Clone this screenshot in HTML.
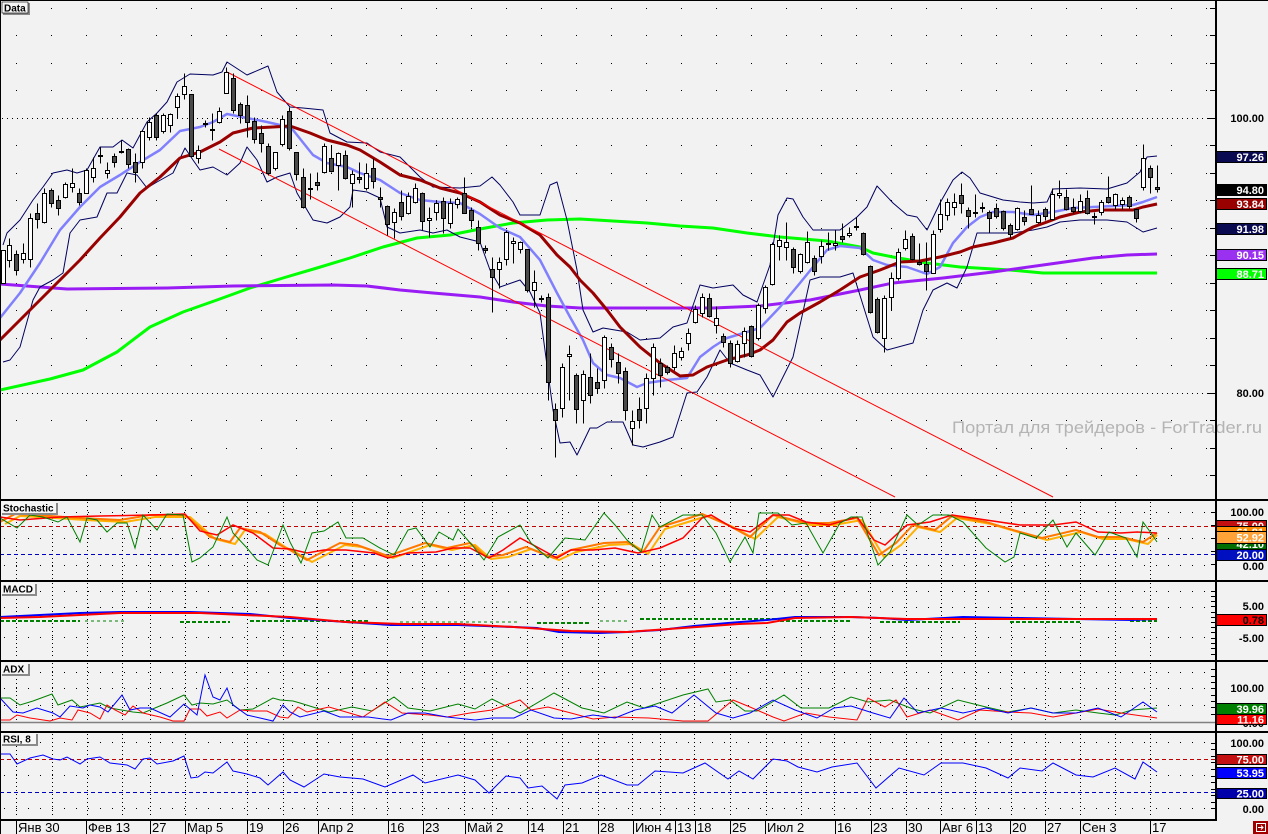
<!DOCTYPE html>
<html><head><meta charset="utf-8"><style>html,body{margin:0;padding:0;background:#f2f2f2;}svg{display:block}</style></head>
<body>
<svg xmlns="http://www.w3.org/2000/svg" width="1268" height="834" viewBox="0 0 1268 834" font-family="'Liberation Sans', Arial, sans-serif">
<rect width="1268" height="834" fill="#f2f2f2"/>

<!-- main panel dotted grid -->
<g stroke="#000" stroke-width="1" fill="none">
<path stroke-dasharray="1 34" d="M16 8.5H1212M16 35.5H1212M16 63.5H1212M16 90.5H1212M16 145.5H1212M16 173.5H1212M16 200.5H1212M16 228.5H1212M16 255.5H1212M16 283.5H1212M16 310.5H1212M16 338.5H1212M16 365.5H1212M16 420.5H1212M16 448.5H1212M16 475.5H1212"/>
<path stroke-dasharray="1 4" d="M2 118.5H1212M2 393.5H1212"/>
</g>

<!-- lower panel dotted grid -->
<g stroke="#000" stroke-width="1" fill="none" stroke-dasharray="1 3">
<path d="M16.5 502V579M52.5 502V579M87.5 502V579M122.5 502V579M150.5 502V579M185.5 502V579M247.5 502V579M283.5 502V579M317.5 502V579M352.5 502V579M387.5 502V579M422.5 502V579M464.5 502V579M492.5 502V579M527.5 502V579M562.5 502V579M598.5 502V579M632.5 502V579M660.5 502V579M694.5 502V579M730.5 502V579M766.5 502V579M801.5 502V579M834.5 502V579M870.5 502V579M906.5 502V579M941.5 502V579M975.5 502V579M1011.5 502V579M1045.5 502V579M1080.5 502V579M1115.5 502V579M1150.5 502V579"/>
<path d="M16.5 583V659M52.5 583V659M87.5 583V659M122.5 583V659M150.5 583V659M185.5 583V659M247.5 583V659M283.5 583V659M317.5 583V659M352.5 583V659M387.5 583V659M422.5 583V659M464.5 583V659M492.5 583V659M527.5 583V659M562.5 583V659M598.5 583V659M632.5 583V659M660.5 583V659M694.5 583V659M730.5 583V659M766.5 583V659M801.5 583V659M834.5 583V659M870.5 583V659M906.5 583V659M941.5 583V659M975.5 583V659M1011.5 583V659M1045.5 583V659M1080.5 583V659M1115.5 583V659M1150.5 583V659"/>
<path d="M16.5 663V721M52.5 663V721M87.5 663V721M122.5 663V721M150.5 663V721M185.5 663V721M247.5 663V721M283.5 663V721M317.5 663V721M352.5 663V721M387.5 663V721M422.5 663V721M464.5 663V721M492.5 663V721M527.5 663V721M562.5 663V721M598.5 663V721M632.5 663V721M660.5 663V721M694.5 663V721M730.5 663V721M766.5 663V721M801.5 663V721M834.5 663V721M870.5 663V721M906.5 663V721M941.5 663V721M975.5 663V721M1011.5 663V721M1045.5 663V721M1080.5 663V721M1115.5 663V721M1150.5 663V721"/>
<path d="M16.5 734V818M52.5 734V818M87.5 734V818M122.5 734V818M150.5 734V818M185.5 734V818M247.5 734V818M283.5 734V818M317.5 734V818M352.5 734V818M387.5 734V818M422.5 734V818M464.5 734V818M492.5 734V818M527.5 734V818M562.5 734V818M598.5 734V818M632.5 734V818M660.5 734V818M694.5 734V818M730.5 734V818M766.5 734V818M801.5 734V818M834.5 734V818M870.5 734V818M906.5 734V818M941.5 734V818M975.5 734V818M1011.5 734V818M1045.5 734V818M1080.5 734V818M1115.5 734V818M1150.5 734V818"/>
</g>
<g stroke="#000" stroke-width="1" fill="none" stroke-dasharray="1 11">
<path d="M4 512.5H1212M4 538.5H1212M4 565.5H1212M4 591.5H1212M4 607.5H1212M4 637.5H1212M4 672.5H1212M4 688.5H1212M4 705.5H1212M4 742.5H1212M4 775.5H1212M4 808.5H1212"/>
</g>

<!-- MAIN PANEL indicators -->
<g fill="none" stroke-linejoin="round">
<polyline stroke="#00ff00" stroke-width="3" points="0,390 50,379 83,370 117,352 150,327 183,312 217,300 250,288 283,278 317,268 350,258 383,247 417,238 450,235 480,229 513,223 547,220 580,219 613,221 647,223 680,226 713,228 747,233 780,237 827,241 860,247 873,253 893,257 927,263 960,267 1010,270 1043,273 1157,273"/>
<polyline stroke="#9a1cf4" stroke-width="3" points="0,284 67,289 167,288 233,286 333,285 367,286 400,290 433,293 480,297 513,302 547,306 580,308 647,308 713,308 760,306 810,300 860,290 893,283 943,278 993,272 1043,265 1093,258 1127,255 1157,254"/>
<polyline stroke="#000060" stroke-width="1" points="3,245 7,233 20,220 33,200 43,187 53,173 67,170 77,173 87,170 100,147 113,147 122,140 133,148 147,122 157,113 167,102 177,82 190,74 213,75 222,72 227,62 247,75 268,66 277,92 290,107 303,108 323,110 330,133 347,142 367,143 380,152 400,157 420,177 433,187 460,188 480,186 492,177 500,185 513,202 520,215 540,215 550,185 557,182 567,220 577,270 583,310 593,332 603,328 627,332 640,340 660,338 673,327 687,323 700,285 713,288 733,285 743,295 757,302 770,265 778,215 787,198 793,199 803,217 813,230 840,230 857,217 867,207 877,186 893,203 907,215 917,217 927,230 940,203 953,180 962,172 970,178 980,193 1003,200 1020,202 1033,203 1047,202 1053,189 1080,188 1107,189 1127,183 1140,172 1147,157 1157,156"/>
<polyline stroke="#000060" stroke-width="1" points="3,362 10,360 20,347 33,300 40,287 53,280 63,273 70,233 80,220 97,217 107,193 117,193 127,173 137,175 147,188 157,182 173,173 185,148 193,160 200,170 213,167 227,175 240,163 247,147 257,160 267,182 277,177 290,173 297,193 313,220 327,223 340,217 350,207 353,190 367,192 380,198 387,227 400,233 420,230 433,233 447,230 460,237 480,242 490,270 500,287 520,280 530,292 540,313 553,410 560,443 570,442 577,455 590,428 597,428 607,422 623,422 633,445 643,447 660,442 673,437 687,393 697,392 707,377 720,350 730,363 747,370 760,375 773,397 793,357 810,280 820,277 840,277 853,273 873,337 887,350 913,343 923,310 933,290 947,283 957,288 967,267 977,233 993,233 1013,233 1033,230 1047,227 1060,222 1080,220 1107,220 1127,222 1143,232 1157,228"/>
<polyline stroke="#8080ff" stroke-width="2.5" points="0,318 20,293 40,263 60,230 80,207 100,187 120,175 140,162 160,150 180,131 200,127 213,122 227,114 247,118 267,122 280,125 293,130 313,155 327,163 347,167 360,173 380,180 400,193 420,200 440,202 460,203 480,214 500,228 520,237 540,260 557,293 570,317 583,340 593,363 607,375 620,378 637,387 647,383 667,380 687,378 700,357 713,347 727,338 747,332 760,328 780,307 800,283 813,267 827,250 840,246 860,248 873,260 887,265 907,267 927,274 940,267 953,243 967,227 980,217 993,212 1013,212 1033,215 1053,212 1073,208 1093,207 1113,206 1133,205 1143,202 1157,197"/>
<polyline stroke="#990000" stroke-width="3" points="0,340 20,320 40,300 60,280 80,260 100,238 120,217 140,193 160,177 180,158 200,152 220,142 233,133 253,128 273,127 290,126 310,133 327,140 347,145 360,150 380,162 400,175 420,180 440,188 460,193 480,202 500,215 520,223 540,235 557,255 570,267 580,280 593,293 607,310 620,327 640,347 660,363 680,376 693,375 707,367 727,360 747,355 760,350 773,340 787,322 800,313 820,302 840,290 860,277 880,270 900,262 920,261 940,257 960,252 973,247 993,243 1013,238 1033,227 1047,222 1060,217 1080,212 1100,210 1133,210 1143,207 1157,204"/>
<line x1="227" y1="72" x2="1053" y2="497" stroke="#ff0000" stroke-width="1"/>
<line x1="219" y1="149" x2="895" y2="497" stroke="#ff0000" stroke-width="1"/>
</g>

<!-- candles -->
<g transform="translate(0.5,0.5)" shape-rendering="crispEdges" stroke="#000" stroke-width="1">
<path fill="none" d="M3 250V283M9 238V267M16 250V275M23 243V263M30 213V267M37 203V228M44 188V223M51 188V207M58 195V215M65 182V198M72 168V192M79 188V205M86 168V193M93 157V182M100 147V163M107 162V178M114 153V167M121 140V153M128 148V168M135 153V182M142 130V168M149 117V140M156 113V140M163 113V133M170 113V132M177 93V118M184 73V99M191 94V156M198 145V163M205 120V127M212 113V140M219 107V123M226 67V93M233 73V113M240 102V123M247 95V137M254 117V143M261 125V152M268 143V175M275 152V170M282 115V146M289 107V150M296 152V180M303 168V208M310 173V199M317 172V190M324 143V173M331 145V172M338 152V190M345 150V179M352 170V207M359 162V183M366 163V190M373 158V188M380 187V207M387 205V235M394 208V238M401 190V220M408 192V214M415 183V203M422 192V230M429 207V237M436 200V220M443 197V233M450 198V228M457 197V208M464 177V213M471 207V227M478 220V250M485 245V253M492 257V312M499 257V288M506 230V265M513 237V263M520 241V253M527 249V292M534 270V307M541 295V302M548 293V400M555 403V457M562 363V417M569 345V400M576 373V423M583 370V423M590 353V403M597 368V393M604 335V388M611 343V367M618 353V383M625 367V420M632 410V445M639 397V428M646 373V423M653 343V395M660 358V387M667 365V374M674 345V370M681 347V360M688 328V350M695 305V323M702 293V317M709 293V317M716 306V333M723 333V347M730 340V367M737 340V362M744 327V357M751 325V357M758 303V340M765 285V313M772 242V285M779 235V260M786 222V260M793 247V273M800 253V273M807 231V263M814 255V275M821 240V263M828 232V250M835 230V250M842 223V242M849 227V237M856 217V230M863 232V255M870 265V313M877 297V333M884 295V352M891 272V310M898 248V280M905 230V250M912 233V260M919 243V265M926 242V290M933 230V273M940 199V232M947 198V220M954 193V215M961 183V213M968 207V228M975 194V217M982 202V212M989 210V232M996 203V218M1003 210V230M1010 223V238M1017 207V230M1024 210V225M1031 185V214M1038 210V223M1045 207V220M1052 188V220M1059 180V198M1066 189V210M1073 198V213M1080 194V213M1087 190V214M1094 212V224M1101 200V215M1108 176V203M1115 193V209M1122 197V209M1129 195V208M1136 208V222M1143 144V190M1150 165V193M1157 165V192"/>
<path fill="#4a4a4a" d="M14 254h4V270h-4zM35 213h4V219h-4zM49 190h4V203h-4zM56 200h4V208h-4zM77 193h4V202h-4zM98 155h4V156h-4zM112 156h4V162h-4zM119 151h4V152h-4zM126 149h4V164h-4zM133 162h4V172h-4zM154 115h4V137h-4zM189 94h4V156h-4zM203 123h4V124h-4zM210 129h4V130h-4zM231 78h4V110h-4zM238 104h4V115h-4zM245 105h4V122h-4zM252 121h4V139h-4zM259 133h4V143h-4zM266 146h4V173h-4zM287 111h4V148h-4zM294 152h4V174h-4zM301 177h4V207h-4zM308 188h4V189h-4zM315 182h4V185h-4zM329 158h4V171h-4zM343 155h4V178h-4zM357 177h4V179h-4zM371 168h4V181h-4zM378 197h4V199h-4zM385 206h4V224h-4zM399 202h4V216h-4zM420 193h4V221h-4zM441 201h4V218h-4zM462 193h4V213h-4zM469 210h4V220h-4zM476 227h4V243h-4zM483 248h4V250h-4zM490 269h4V277h-4zM525 249h4V290h-4zM539 298h4V299h-4zM546 297h4V382h-4zM553 409h4V420h-4zM574 375h4V409h-4zM588 377h4V395h-4zM595 382h4V388h-4zM609 347h4V359h-4zM616 362h4V373h-4zM623 371h4V410h-4zM637 409h4V420h-4zM658 363h4V375h-4zM665 367h4V372h-4zM707 298h4V316h-4zM721 336h4V342h-4zM728 343h4V363h-4zM749 326h4V356h-4zM791 249h4V267h-4zM812 258h4V271h-4zM840 236h4V239h-4zM854 226h4V227h-4zM861 233h4V254h-4zM868 266h4V312h-4zM875 299h4V332h-4zM910 236h4V259h-4zM917 262h4V264h-4zM924 264h4V271h-4zM959 195h4V203h-4zM966 210h4V216h-4zM973 212h4V213h-4zM987 212h4V218h-4zM994 208h4V216h-4zM1001 211h4V228h-4zM1008 225h4V234h-4zM1022 217h4V221h-4zM1029 209h4V214h-4zM1043 209h4V216h-4zM1064 197h4V209h-4zM1071 207h4V211h-4zM1085 198h4V213h-4zM1092 216h4V217h-4zM1106 197h4V202h-4zM1127 197h4V206h-4zM1134 209h4V218h-4zM1148 168h4V177h-4zM1155 187h4V189h-4z"/>
<path fill="#ffffff" d="M1 250h4V283h-4zM7 245h4V260h-4zM21 253h4V259h-4zM28 218h4V259h-4zM42 193h4V222h-4zM63 184h4V197h-4zM70 183h4V187h-4zM84 170h4V193h-4zM91 168h4V177h-4zM105 170h4V173h-4zM140 131h4V162h-4zM147 122h4V137h-4zM161 115h4V131h-4zM168 114h4V125h-4zM175 96h4V107h-4zM182 86h4V94h-4zM196 150h4V158h-4zM217 111h4V122h-4zM224 72h4V93h-4zM273 152h4V168h-4zM280 119h4V144h-4zM322 146h4V172h-4zM336 153h4V165h-4zM350 174h4V183h-4zM364 173h4V188h-4zM392 212h4V222h-4zM406 196h4V213h-4zM413 188h4V202h-4zM427 218h4V220h-4zM434 203h4V212h-4zM448 203h4V223h-4zM455 199h4V204h-4zM497 262h4V269h-4zM504 232h4V259h-4zM511 241h4V243h-4zM518 242h4V249h-4zM532 282h4V290h-4zM560 367h4V408h-4zM567 354h4V356h-4zM581 374h4V400h-4zM602 337h4V380h-4zM630 421h4V428h-4zM644 378h4V408h-4zM651 347h4V378h-4zM672 353h4V367h-4zM679 351h4V357h-4zM686 333h4V343h-4zM693 309h4V322h-4zM700 297h4V313h-4zM714 318h4V325h-4zM735 344h4V361h-4zM742 331h4V343h-4zM756 305h4V338h-4zM763 287h4V308h-4zM770 244h4V284h-4zM777 240h4V246h-4zM784 242h4V247h-4zM798 254h4V271h-4zM805 242h4V262h-4zM819 246h4V256h-4zM826 243h4V244h-4zM833 243h4V245h-4zM847 233h4V235h-4zM882 298h4V338h-4zM889 278h4V297h-4zM896 252h4V278h-4zM903 239h4V248h-4zM931 234h4V273h-4zM938 214h4V229h-4zM945 202h4V215h-4zM952 202h4V207h-4zM980 207h4V208h-4zM1015 208h4V229h-4zM1036 215h4V222h-4zM1050 194h4V219h-4zM1057 193h4V195h-4zM1078 201h4V211h-4zM1099 202h4V212h-4zM1113 194h4V205h-4zM1120 200h4V204h-4zM1141 158h4V187h-4z"/>
</g>

<!-- watermark -->
<text x="952" y="433" font-size="17" fill="#b4b4b4" textLength="310" lengthAdjust="spacingAndGlyphs">Портал для трейдеров - ForTrader.ru</text>

<!-- STOCHASTIC -->
<g fill="none" stroke-width="1">
<line x1="0" y1="526.5" x2="1215" y2="526.5" stroke="#c00000" stroke-dasharray="4 3"/>
<line x1="0" y1="554.5" x2="1215" y2="554.5" stroke="#0000c0" stroke-dasharray="4 3"/>
<polyline stroke="#ffb000" stroke-width="2" transform="translate(5,2)" points="0,522 15,514 50,516 80,518 120,520 150,515 185,515 200,528 210,537 230,542 240,528 260,532 280,545 290,550 307,560 340,543 357,545 388,556 425,543 447,548 470,543 486,557 503,555 526,547 554,558 571,550 604,543 627,542 643,552 660,527 683,520 702,514 728,525 750,537 773,515 806,523 829,523 857,518 879,555 896,543 913,525 935,530 952,516 986,522 1020,532 1042,538 1076,530 1098,537 1121,537 1143,542 1152,533"/>
<polyline stroke="#ff7800" stroke-width="2" points="0,522 15,514 50,516 80,518 120,520 150,515 185,515 200,528 210,537 230,542 240,528 260,532 280,545 290,550 307,560 340,543 357,545 388,556 425,543 447,548 470,543 486,557 503,555 526,547 554,558 571,550 604,543 627,542 643,552 660,527 683,520 702,514 728,525 750,537 773,515 806,523 829,523 857,518 879,555 896,543 913,525 935,530 952,516 986,522 1020,532 1042,538 1076,530 1098,537 1121,537 1143,542 1157,533"/>
<polyline stroke="#ff0000" stroke-width="1.5" points="0,517 20,520 60,517 100,516 150,515 185,514 200,531 217,535 233,525 253,533 273,548 290,549 307,553 324,550 346,550 374,553 388,558 408,553 436,552 453,548 470,548 489,558 503,550 520,538 537,547 557,558 571,550 593,550 615,548 638,553 660,548 683,538 702,518 711,515 733,528 750,532 773,515 789,515 806,522 829,525 857,517 874,540 885,545 907,525 930,522 952,515 986,520 1020,525 1053,525 1076,522 1098,532 1121,533 1137,532 1157,533"/>
<polyline stroke="#008000" stroke-width="1" points="0,518 17,528 30,515 43,517 58,522 67,517 80,542 87,518 97,520 107,532 117,523 127,523 135,548 143,515 157,530 167,514 183,515 192,562 200,558 213,547 227,517 233,533 247,548 257,560 268,565 283,525 290,542 301,563 312,533 324,531 338,522 346,538 363,538 380,548 394,555 408,530 416,528 430,547 439,532 453,540 458,529 472,545 484,560 498,537 520,525 531,543 548,558 565,538 585,540 604,513 615,525 627,540 641,552 652,515 660,527 683,515 702,515 716,533 730,562 745,537 753,553 759,513 778,513 792,525 806,523 823,553 840,523 851,517 862,517 878,565 890,552 907,515 918,525 933,515 949,515 963,522 986,548 1005,562 1014,557 1020,533 1036,538 1053,520 1067,547 1076,533 1095,555 1109,532 1126,538 1137,557 1143,522 1151,533 1157,542"/>
</g>

<!-- MACD -->
<g fill="none">
<path stroke="#008000" stroke-width="2" stroke-dasharray="4 2" d="M0 621H80M180 622H230M250 621H370M537 623H590M640 619H780M780 621H850M880 622H960M1010 622H1080M1130 621H1157"/>
<path stroke="#008000" stroke-width="1" stroke-dasharray="3 3" d="M85 621H125M400 622H520M600 621H630"/>
<polyline stroke="#0000ff" stroke-width="2" points="0,617 40,615 80,613 120,612 190,612 250,614 290,618 346,622 391,625 458,625 514,627 537,628 559,632 599,633 627,632 660,630 694,626 728,623 767,620 795,617 851,617 880,618 907,620 963,617 1020,618 1076,619 1132,620 1157,619"/>
<polyline stroke="#ff0000" stroke-width="2" points="0,618 40,617 80,615 120,613 200,613 290,617 346,622 402,624 458,624 514,627 571,631 627,632 683,628 739,624 767,623 795,618 851,617 907,619 1157,619"/>
</g>

<!-- ADX -->
<g fill="none" stroke-width="1">
<line x1="0" y1="722.5" x2="1215" y2="722.5" stroke="#808080" stroke-width="1.5"/>
<polyline stroke="#008000" points="0,698 10,698 20,705 33,701 52,694 58,705 72,700 80,707 100,703 110,708 133,712 143,713 167,703 184,695 192,705 200,703 213,704 227,700 240,710 253,709 273,698 280,700 293,701 300,703 329,712 352,707 372,711 394,697 408,708 430,711 458,704 475,709 492,699 520,713 554,693 582,708 604,713 627,702 644,708 683,695 708,689 716,702 730,700 745,711 757,711 784,695 801,708 829,708 851,697 868,702 890,700 913,709 930,713 958,700 986,707 1008,712 1031,708 1053,713 1076,710 1098,713 1115,715 1132,710 1157,708"/>
<polyline stroke="#ff0000" points="0,720 10,720 17,715 30,718 50,721 60,718 72,720 78,710 90,713 100,719 107,705 115,710 125,715 133,706 143,713 160,717 173,721 184,721 190,709 200,709 207,716 220,712 227,718 240,710 253,711 267,711 280,717 288,718 298,707 307,712 329,707 346,712 363,717 385,702 402,713 430,715 447,717 470,713 492,710 520,700 531,710 548,707 571,713 593,719 615,717 649,718 683,721 708,721 733,700 750,707 773,717 784,721 806,713 829,717 857,720 868,698 885,707 896,700 907,717 930,710 958,720 980,710 1008,712 1031,713 1053,717 1076,713 1098,709 1121,713 1157,718"/>
<polyline stroke="#0000ff" points="0,698 13,712 23,713 37,708 53,713 60,717 70,706 83,708 90,705 100,707 108,712 122,695 130,710 140,708 150,708 170,717 184,704 197,715 205,675 213,697 220,700 227,688 233,705 247,715 260,718 273,721 283,705 290,712 300,717 324,711 340,717 368,717 391,720 408,713 425,713 447,717 475,720 492,718 514,718 531,710 554,718 571,719 593,715 615,718 635,710 655,706 672,713 694,695 716,713 733,718 750,713 773,700 795,710 817,718 834,708 851,706 873,713 890,718 904,698 918,713 941,708 963,713 986,708 1008,713 1031,708 1053,713 1076,713 1098,708 1121,717 1143,702 1157,712"/>
</g>

<!-- RSI -->
<g fill="none" stroke-width="1">
<line x1="0" y1="759.5" x2="1215" y2="759.5" stroke="#c00000" stroke-dasharray="4 3"/>
<line x1="0" y1="792.5" x2="1215" y2="792.5" stroke="#0000c0" stroke-dasharray="4 3"/>
<polyline stroke="#0000ff" points="0,754 10,754 17,764 30,758 43,755 53,759 60,760 67,757 80,764 87,759 100,757 110,763 127,765 135,769 143,759 150,758 157,764 173,761 184,756 191,778 198,777 205,772 213,773 227,762 233,771 247,774 260,778 268,785 283,772 290,780 304,787 324,774 340,777 363,779 385,787 413,775 425,783 458,775 475,780 489,793 506,776 520,778 528,788 542,786 557,799 565,785 582,783 601,775 627,785 638,785 655,771 683,773 705,763 728,779 739,771 753,779 773,759 787,761 798,767 817,772 832,767 857,763 876,788 899,768 924,775 941,763 963,763 986,768 1008,778 1020,768 1042,771 1053,763 1076,775 1093,777 1115,768 1135,779 1143,762 1157,772"/>
</g>

<!-- separators and frame -->
<g fill="#000" shape-rendering="crispEdges">
<rect x="0" y="0" width="1268" height="1"/>
<rect x="0" y="0" width="1" height="834"/>
<rect x="0" y="499" width="1268" height="2"/>
<rect x="0" y="580" width="1268" height="2"/>
<rect x="0" y="660" width="1268" height="2"/>
<rect x="0" y="731" width="1268" height="2"/>
<rect x="0" y="819" width="1217" height="2"/>
<rect x="1215" y="0" width="2" height="821"/>
</g>

<!-- axis ticks -->
<g stroke="#000" stroke-width="1" shape-rendering="crispEdges">
<path d="M1210 8.5H1215M1210 35.5H1215M1210 63.5H1215M1210 90.5H1215M1207 118.5H1215M1210 145.5H1215M1210 173.5H1215M1210 200.5H1215M1210 228.5H1215M1210 255.5H1215M1210 283.5H1215M1210 310.5H1215M1210 338.5H1215M1210 365.5H1215M1207 393.5H1215M1210 420.5H1215M1210 448.5H1215M1210 475.5H1215"/>
<path d="M1211 512.5H1215M1211 525.5H1215M1211 538.5H1215M1211 551.5H1215M1211 564.5H1215M1211 591.5H1215M1211 596.5H1215M1211 601.5H1215M1211 606.5H1215M1211 612.5H1215M1211 617.5H1215M1211 622.5H1215M1211 627.5H1215M1211 632.5H1215M1211 638.5H1215M1211 643.5H1215M1211 648.5H1215M1211 654.5H1215M1211 669.5H1215M1211 676.5H1215M1211 682.5H1215M1211 688.5H1215M1211 695.5H1215M1211 701.5H1215M1211 707.5H1215M1211 714.5H1215M1211 743.5H1215M1211 749.5H1215M1211 756.5H1215M1211 762.5H1215M1211 769.5H1215M1211 776.5H1215M1211 782.5H1215M1211 789.5H1215M1211 795.5H1215M1211 802.5H1215M1211 808.5H1215"/>
</g>

<!-- panel title boxes -->
<g font-weight="bold" font-size="10" fill="#000">
<rect x="27" y="3" width="3" height="12" fill="#8a8a8a"/><rect x="3" y="13" width="27" height="2" fill="#8a8a8a"/>
<rect x="2" y="2" width="26" height="11" fill="#f6f6f6" stroke="#000" stroke-width="0.6"/>
<text x="4" y="11.5">Data</text>
<rect x="55" y="503" width="3" height="12" fill="#8a8a8a"/><rect x="2" y="513" width="56" height="2" fill="#8a8a8a"/>
<rect x="1" y="502" width="55" height="11" fill="#f6f6f6"/>
<text x="3" y="511.5">Stochastic</text>
<rect x="34" y="584" width="3" height="12" fill="#8a8a8a"/><rect x="2" y="594" width="35" height="2" fill="#8a8a8a"/>
<rect x="1" y="583" width="34" height="11" fill="#f6f6f6"/>
<text x="3" y="592.5">MACD</text>
<rect x="27" y="664" width="3" height="12" fill="#8a8a8a"/><rect x="2" y="674" width="28" height="2" fill="#8a8a8a"/>
<rect x="1" y="663" width="27" height="11" fill="#f6f6f6"/>
<text x="3" y="672.5">ADX</text>
<rect x="35" y="734" width="3" height="12" fill="#8a8a8a"/><rect x="2" y="744" width="36" height="2" fill="#8a8a8a"/>
<rect x="1" y="733" width="35" height="11" fill="#f6f6f6"/>
<text x="3" y="742.5">RSI, 8</text>
</g>

<!-- right value labels -->
<g font-weight="bold" font-size="11" text-anchor="end">
<text x="1264" y="122" fill="#000">100.00</text>
<text x="1264" y="397" fill="#000">80.00</text>
<rect x="1216.5" y="151.5" width="50" height="11" fill="#0a0a50" stroke="#000"/><text x="1264" y="161" fill="#fff">97.26</text>
<rect x="1216.5" y="184.5" width="50" height="11" fill="#000" stroke="#000"/><text x="1264" y="194" fill="#fff">94.80</text>
<rect x="1216.5" y="198.5" width="50" height="11" fill="#990000" stroke="#000"/><text x="1264" y="208" fill="#fff">93.84</text>
<rect x="1216.5" y="223.5" width="50" height="11" fill="#0a0a50" stroke="#000"/><text x="1264" y="233" fill="#fff">91.98</text>
<rect x="1216.5" y="249.5" width="50" height="11" fill="#9a30f0" stroke="#000"/><text x="1264" y="259" fill="#fff">90.15</text>
<rect x="1216.5" y="268.5" width="50" height="11" fill="#00ff00" stroke="#000"/><text x="1264" y="278" fill="#fff">88.71</text>

<text x="1264" y="516" fill="#000">100.00</text>
<rect x="1216.5" y="520.5" width="50" height="11" fill="#c41010" stroke="#000"/><text x="1264" y="530" fill="#fff">75.00</text>
<rect x="1216.5" y="526.5" width="50" height="11" fill="#ff8c00" stroke="#000"/><text x="1264" y="536" fill="#fff">61.81</text>
<rect x="1216.5" y="538.5" width="50" height="11" fill="#006e00" stroke="#000"/><text x="1264" y="548" fill="#fff">42.10</text>
<rect x="1216.5" y="531.5" width="50" height="12" fill="#ffa238" stroke="#000"/><text x="1264" y="541.5" fill="#fff">52.92</text>
<rect x="1216.5" y="549.5" width="50" height="11" fill="#0010c0" stroke="#000"/><text x="1264" y="559" fill="#fff">20.00</text>
<text x="1264" y="570" fill="#000">0.00</text>

<text x="1264" y="610" fill="#000">5.00</text>
<rect x="1216.5" y="614.5" width="50" height="11" fill="#ff0000" stroke="#000"/><text x="1264" y="624" fill="#000">0.78</text>
<text x="1264" y="642" fill="#000">-5.00</text>

<text x="1264" y="692" fill="#000">100.00</text>
<text x="1264" y="727" fill="#000">0.00</text>
<rect x="1216.5" y="703.5" width="50" height="11" fill="#008000" stroke="#000"/><text x="1264" y="713" fill="#fff">39.96</text>
<rect x="1216.5" y="714.5" width="50" height="10" fill="#ff0000" stroke="#000"/><text x="1264" y="723.5" fill="#fff">11.16</text>

<text x="1264" y="747" fill="#000">100.00</text>
<rect x="1216.5" y="754.5" width="50" height="10" fill="#c41010" stroke="#000"/><text x="1264" y="763.5" fill="#fff">75.00</text>
<rect x="1216.5" y="767.5" width="50" height="11" fill="#0000ff" stroke="#000"/><text x="1264" y="777" fill="#fff">53.95</text>
<rect x="1216.5" y="788.5" width="50" height="10" fill="#0000aa" stroke="#000"/><text x="1264" y="797.5" fill="#fff">25.00</text>
<text x="1264" y="813" fill="#000">0.00</text>
</g>

<!-- date axis -->
<g stroke="#000" stroke-width="1" shape-rendering="crispEdges">
<path d="M16.5 821V834M86.5 821V834M150.5 821V834M185.5 821V834M247.5 821V834M283.5 821V834M318.5 821V834M388.5 821V834M423.5 821V834M465.5 821V834M528.5 821V834M563.5 821V834M598.5 821V834M633.5 821V834M675.5 821V834M695.5 821V834M730.5 821V834M765.5 821V834M835.5 821V834M871.5 821V834M906.5 821V834M940.5 821V834M976.5 821V834M1010.5 821V834M1045.5 821V834M1080.5 821V834M1150.5 821V834"/>
</g>
<g font-size="13" fill="#000">
<text x="18" y="832">Янв 30</text>
<text x="88" y="832">Фев 13</text>
<text x="152" y="832">27</text>
<text x="187" y="832">Мар 5</text>
<text x="249" y="832">19</text>
<text x="285" y="832">26</text>
<text x="320" y="832">Апр 2</text>
<text x="390" y="832">16</text>
<text x="425" y="832">23</text>
<text x="467" y="832">Май 2</text>
<text x="530" y="832">14</text>
<text x="565" y="832">21</text>
<text x="600" y="832">28</text>
<text x="635" y="832">Июн 4</text>
<text x="677" y="832">13</text>
<text x="697" y="832">18</text>
<text x="732" y="832">25</text>
<text x="767" y="832">Июл 2</text>
<text x="837" y="832">16</text>
<text x="873" y="832">23</text>
<text x="908" y="832">30</text>
<text x="942" y="832">Авг 6</text>
<text x="978" y="832">13</text>
<text x="1012" y="832">20</text>
<text x="1047" y="832">27</text>
<text x="1082" y="832">Сен 3</text>
<text x="1152" y="832">17</text>
</g>

<!-- corner icon -->
<rect x="1253" y="821" width="15" height="13" fill="#a00000"/>
<rect x="1256.5" y="823.5" width="9" height="8" fill="none" stroke="#fff" stroke-width="1"/>
<path d="M1258 827.5H1263M1261 825.5L1263 827.5L1261 829.5" stroke="#fff" stroke-width="1" fill="none"/>
</svg>
</body></html>
